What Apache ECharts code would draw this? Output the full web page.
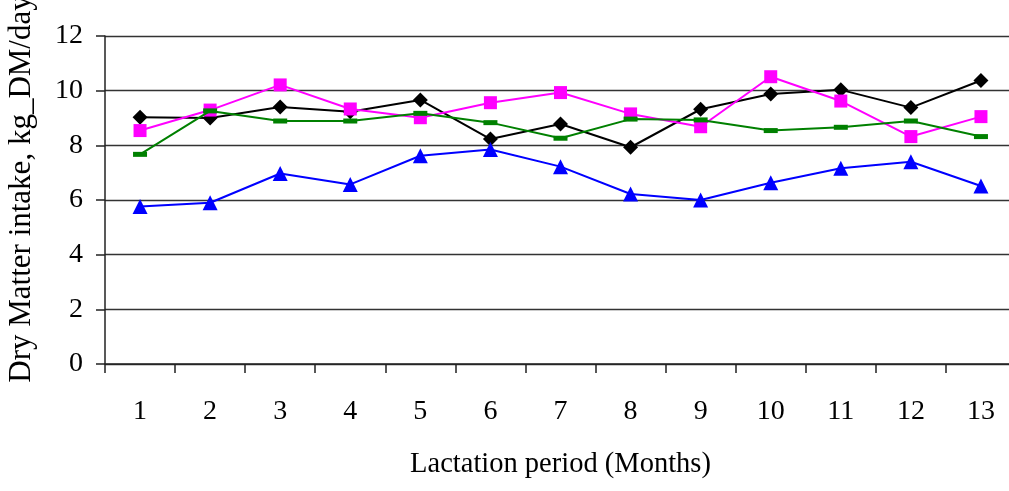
<!DOCTYPE html>
<html><head><meta charset="utf-8">
<script src="https://cdn.jsdelivr.net/npm/echarts@6/dist/echarts.min.js"></script>
<style>html,body{margin:0;padding:0;background:#fff}#c{width:1009px;height:491px}</style>
</head><body><div id="c"></div>
<script>
const categories = ['1','2','3','4','5','6','7','8','9','10','11','12','13'];
const blackDiamond = [9.03, 9.0, 9.4, 9.23, 9.66, 8.23, 8.78, 7.93, 9.32, 9.88, 10.03, 9.38, 10.37];
const magentaSquare = [8.54, 9.29, 10.21, 9.33, 9.01, 9.56, 9.93, 9.15, 8.68, 10.51, 9.62, 8.32, 9.05];
const greenDash = [7.67, 9.26, 8.89, 8.89, 9.17, 8.83, 8.26, 8.96, 8.93, 8.54, 8.66, 8.89, 8.32];
const blueTriangle = [5.76, 5.90, 6.97, 6.57, 7.62, 7.85, 7.22, 6.22, 6.0, 6.63, 7.16, 7.40, 6.51];
const yTicks = [0, 2, 4, 6, 8, 10, 12];
const xTitle = 'Lactation period (Months)';
const yTitle = 'Dry Matter intake, kg_DM/day';

const FONT = "'Liberation Serif', 'DejaVu Serif', serif";
const chart = echarts.init(document.getElementById('c'), null, {renderer: 'canvas'});
function s(name, data, color, symbol, size, z) {
  return {
    name, type: 'line', data, z,
    symbol, symbolSize: size, showSymbol: true,
    lineStyle: {color, width: 2},
    itemStyle: {color},
    animation: false
  };
}
chart.setOption({
  animation: false,
  backgroundColor: '#fff',
  grid: {left: 105, top: 36, width: 911, bottom: 127, containLabel: false, outerBoundsMode: 'none'},
  xAxis: {
    type: 'category', data: categories, boundaryGap: true,
    name: xTitle, nameLocation: 'middle', nameGap: 86,
    nameTextStyle: {fontFamily: FONT, fontSize: 28.5, color: '#000'},
    axisLine: {lineStyle: {color: '#222', width: 1.5}},
    axisTick: {show: true, length: 9, lineStyle: {color: '#222', width: 1.5}},
    axisLabel: {fontFamily: FONT, fontSize: 28, color: '#000', margin: 34},
    splitLine: {show: false}
  },
  yAxis: {
    type: 'value', min: yTicks[0], max: yTicks[yTicks.length - 1], interval: 2,
    axisLine: {show: true, lineStyle: {color: '#222', width: 1.5}},
    axisTick: {show: true, length: 9, lineStyle: {color: '#222', width: 1.5}},
    axisLabel: {fontFamily: FONT, fontSize: 28, color: '#000', margin: 22},
    splitLine: {show: true, lineStyle: {color: '#333', width: 1.3}}
  },
  graphic: [{
    type: 'text', x: 22, y: 189, rotation: Math.PI / 2,
    style: {text: yTitle, fontFamily: FONT, fontSize: 31, fill: '#000', align: 'center', verticalAlign: 'middle'}
  }],
  series: [
    s('A', blackDiamond, '#000000', 'diamond', 15, 2),
    s('B', magentaSquare, '#FF00FF', 'rect', 13, 3),
    s('C', greenDash, '#008000', 'path://M0,0H12V4H0Z', [14, 5], 4),
    s('D', blueTriangle, '#0000FF', 'triangle', 15, 5)
  ]
});
</script></body></html>
